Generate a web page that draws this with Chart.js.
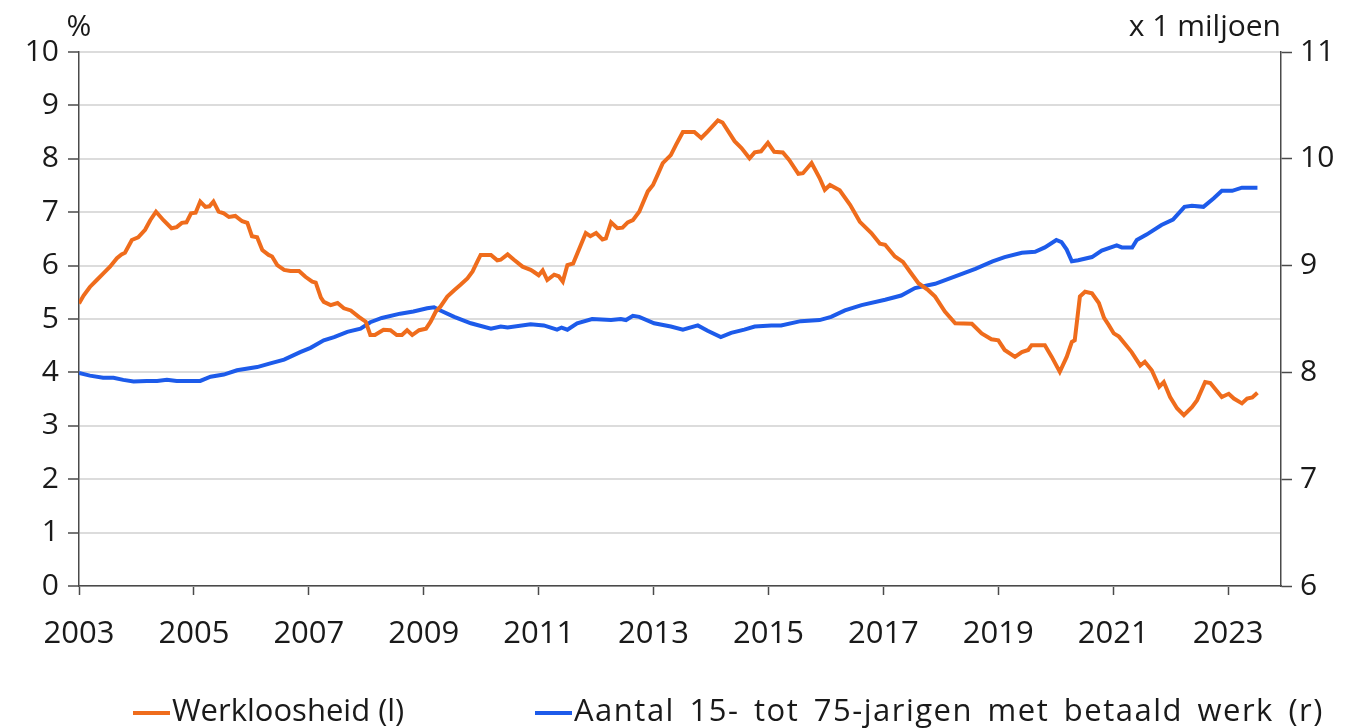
<!DOCTYPE html>
<html>
<head>
<meta charset="utf-8">
<script src="https://cdn.jsdelivr.net/npm/chart.js@4"></script>
<style>
  html, body { margin: 0; padding: 0; background: #fff; }
  #wrap { position: relative; width: 1350px; height: 728px; }
  #legend { position: absolute; left: 0; top: 689px; width: 1350px; height: 40px;
            font-family: "Open Sans", "Noto Sans", sans-serif; font-size: 31px; line-height: 40px; color: #1a1a1a; }
  #legend .item { position: absolute; top: 0; white-space: nowrap; }
  #legend .swatch { display: inline-block; width: 37px; height: 4px; vertical-align: middle; margin-right: 2px; }
</style>
</head>
<body>
<div id="wrap">
  <canvas id="myChart" width="1350" height="728"></canvas>
  <div id="legend"></div>
</div>
<script>
// Werkloosheid (%), x as decimal year
const unemploymentDates = [
  2003.00, 2003.08, 2003.19, 2003.31, 2003.42, 2003.54, 2003.66, 2003.74, 2003.80, 2003.92,
  2004.03, 2004.15, 2004.24, 2004.34, 2004.47, 2004.61, 2004.70, 2004.79, 2004.87, 2004.95,
  2005.03, 2005.11, 2005.20, 2005.27, 2005.34, 2005.43, 2005.52, 2005.61, 2005.72, 2005.84,
  2005.93, 2006.01, 2006.10, 2006.19, 2006.30, 2006.36, 2006.45, 2006.57, 2006.68, 2006.83,
  2006.94, 2007.06, 2007.12, 2007.21, 2007.26, 2007.38, 2007.50, 2007.61, 2007.73, 2007.87,
  2007.99, 2008.07, 2008.15, 2008.30, 2008.42, 2008.53, 2008.62, 2008.71, 2008.80, 2008.92,
  2009.04, 2009.12, 2009.21, 2009.29, 2009.41, 2009.53, 2009.64, 2009.76, 2009.85, 2009.93,
  2009.99, 2010.17, 2010.28, 2010.34, 2010.46, 2010.57, 2010.72, 2010.86, 2010.92, 2011.00,
  2011.07, 2011.15, 2011.27, 2011.35, 2011.42, 2011.50, 2011.60, 2011.82, 2011.90, 2012.00,
  2012.11, 2012.17, 2012.26, 2012.37, 2012.46, 2012.55, 2012.64, 2012.75, 2012.90, 2012.99,
  2013.07, 2013.16, 2013.30, 2013.39, 2013.51, 2013.71, 2013.83, 2013.94, 2014.12, 2014.20,
  2014.41, 2014.53, 2014.67, 2014.76, 2014.87, 2014.99, 2015.10, 2015.25, 2015.36, 2015.52,
  2015.60, 2015.75, 2015.89, 2015.98, 2016.07, 2016.24, 2016.42, 2016.59, 2016.79, 2016.94,
  2017.03, 2017.20, 2017.34, 2017.46, 2017.61, 2017.78, 2017.90, 2018.07, 2018.25, 2018.54,
  2018.71, 2018.88, 2019.00, 2019.11, 2019.29, 2019.41, 2019.52, 2019.58, 2019.81, 2019.93,
  2020.07, 2020.19, 2020.28, 2020.33, 2020.42, 2020.51, 2020.63, 2020.75, 2020.84, 2020.92,
  2021.01, 2021.10, 2021.32, 2021.47, 2021.55, 2021.67, 2021.80, 2021.88, 2021.99, 2022.11,
  2022.23, 2022.37, 2022.46, 2022.60, 2022.69, 2022.89, 2023.01, 2023.10, 2023.24, 2023.33,
  2023.42, 2023.51
];
const unemploymentValues = [
  5.29, 5.44, 5.60, 5.73, 5.85, 5.98, 6.14, 6.21, 6.24, 6.48,
  6.53, 6.67, 6.85, 7.01, 6.85, 6.70, 6.72, 6.80, 6.81, 6.98,
  6.99, 7.20, 7.10, 7.11, 7.20, 7.01, 6.98, 6.91, 6.93, 6.83,
  6.80, 6.55, 6.53, 6.29, 6.20, 6.17, 6.01, 5.92, 5.90, 5.90,
  5.79, 5.70, 5.68, 5.40, 5.32, 5.26, 5.30, 5.20, 5.16, 5.04,
  4.95, 4.70, 4.70, 4.80, 4.79, 4.70, 4.70, 4.79, 4.70, 4.79,
  4.82, 4.95, 5.14, 5.23, 5.42, 5.54, 5.64, 5.76, 5.89, 6.07,
  6.20, 6.20, 6.10, 6.11, 6.21, 6.11, 5.98, 5.92, 5.88, 5.82,
  5.91, 5.73, 5.83, 5.80, 5.70, 6.01, 6.04, 6.61, 6.55, 6.61,
  6.49, 6.51, 6.81, 6.70, 6.71, 6.81, 6.85, 7.01, 7.39, 7.51,
  7.70, 7.92, 8.07, 8.26, 8.50, 8.50, 8.39, 8.51, 8.72, 8.68,
  8.33, 8.20, 8.01, 8.12, 8.14, 8.30, 8.13, 8.12, 7.98, 7.72,
  7.73, 7.92, 7.64, 7.42, 7.51, 7.41, 7.14, 6.82, 6.61, 6.41,
  6.39, 6.17, 6.07, 5.89, 5.67, 5.54, 5.42, 5.14, 4.92, 4.91,
  4.73, 4.62, 4.60, 4.42, 4.29, 4.38, 4.42, 4.51, 4.51, 4.29,
  4.01, 4.29, 4.57, 4.60, 5.42, 5.51, 5.48, 5.30, 5.02, 4.89,
  4.73, 4.67, 4.38, 4.13, 4.20, 4.04, 3.73, 3.82, 3.54, 3.33,
  3.20, 3.35, 3.48, 3.82, 3.80, 3.54, 3.60, 3.51, 3.42, 3.51,
  3.53, 3.62
];

// Aantal 15- tot 75-jarigen met betaald werk (x 1 miljoen)
const employmentDates = [
  2003.00, 2003.19, 2003.42, 2003.60, 2003.77, 2003.95, 2004.18, 2004.36, 2004.53, 2004.70,
  2004.94, 2005.11, 2005.29, 2005.52, 2005.75, 2006.10, 2006.33, 2006.57, 2006.85, 2007.03,
  2007.26, 2007.44, 2007.67, 2007.90, 2008.07, 2008.27, 2008.59, 2008.82, 2009.06, 2009.18,
  2009.29, 2009.53, 2009.82, 2010.17, 2010.34, 2010.46, 2010.86, 2011.09, 2011.32, 2011.40,
  2011.50, 2011.67, 2011.93, 2012.26, 2012.43, 2012.52, 2012.64, 2012.75, 2013.01, 2013.30,
  2013.51, 2013.77, 2013.94, 2014.17, 2014.35, 2014.58, 2014.76, 2015.05, 2015.22, 2015.56,
  2015.89, 2016.09, 2016.33, 2016.62, 2017.03, 2017.31, 2017.55, 2017.90, 2018.25, 2018.60,
  2018.90, 2019.11, 2019.41, 2019.64, 2019.81, 2020.01, 2020.10, 2020.19, 2020.28, 2020.39,
  2020.63, 2020.80, 2021.06, 2021.15, 2021.33, 2021.41, 2021.58, 2021.84, 2022.04, 2022.24,
  2022.37, 2022.57, 2022.75, 2022.89, 2023.07, 2023.24, 2023.51
];
const employmentValues = [
  7.995, 7.97, 7.95, 7.95, 7.93, 7.915, 7.92, 7.92, 7.93, 7.92,
  7.92, 7.92, 7.96, 7.98, 8.02, 8.05, 8.085, 8.12, 8.19, 8.23,
  8.30, 8.33, 8.38, 8.41, 8.47, 8.51, 8.55, 8.57, 8.60, 8.61,
  8.58, 8.52, 8.46, 8.41, 8.43, 8.42, 8.45, 8.44, 8.40, 8.42,
  8.40, 8.46, 8.50, 8.49, 8.50, 8.49, 8.53, 8.52, 8.46, 8.43,
  8.40, 8.44, 8.39, 8.33, 8.37, 8.40, 8.43, 8.44, 8.44, 8.48,
  8.49, 8.52, 8.58, 8.63, 8.68, 8.72, 8.79, 8.83, 8.90, 8.97,
  9.04, 9.08, 9.12, 9.13, 9.17, 9.24, 9.22, 9.15, 9.04, 9.05,
  9.08, 9.14, 9.19, 9.17, 9.17, 9.24, 9.29, 9.38, 9.43, 9.55,
  9.56, 9.55, 9.63, 9.70, 9.70, 9.73, 9.73
];

const xTickYears = [2003, 2005, 2007, 2009, 2011, 2013, 2015, 2017, 2019, 2021, 2023];
const seriesLabels = ['Werkloosheid (l)', 'Aantal 15- tot 75-jarigen met betaald werk (r)'];
const seriesColors = ['#ef6c1c', '#1d5bea'];

const FONT = '"Open Sans", "Noto Sans", sans-serif';
const TEXT = '#1a1a1a';
const AXIS = '#4a4a4a';

// "%" and "x 1 miljoen" sit horizontally above the two axes
const unitLabels = {
  id: 'unitLabels',
  afterDraw(chart) {
    const { ctx, chartArea } = chart;
    ctx.save();
    ctx.font = '30px ' + FONT;
    ctx.fillStyle = TEXT;
    ctx.textBaseline = 'middle';
    ctx.textAlign = 'center';
    ctx.fillText('%', chartArea.left, 27);
    ctx.textAlign = 'right';
    ctx.fillText('x 1 miljoen', chartArea.right, 27);
    ctx.restore();
  }
};

const ctx = document.getElementById('myChart').getContext('2d');
const myChart = new Chart(ctx, {
  type: 'line',
  data: {
    datasets: [
      {
        label: seriesLabels[0],
        data: unemploymentDates.map((d, i) => ({ x: d, y: unemploymentValues[i] })),
        borderColor: seriesColors[0],
        backgroundColor: seriesColors[0],
        borderWidth: 4,
        pointRadius: 0,
        tension: 0,
        yAxisID: 'y'
      },
      {
        label: seriesLabels[1],
        data: employmentDates.map((d, i) => ({ x: d, y: employmentValues[i] })),
        borderColor: seriesColors[1],
        backgroundColor: seriesColors[1],
        borderWidth: 4,
        pointRadius: 0,
        tension: 0,
        yAxisID: 'y1'
      }
    ]
  },
  options: {
    responsive: false,
    animation: false,
    layout: { padding: { top: 52, right: 0, bottom: 60, left: 0 } },
    plugins: {
      tooltip: { enabled: false },
      legend: { display: false }
    },
    scales: {
      x: {
        type: 'linear',
        min: 2003,
        max: 2023.92,
        afterBuildTicks: axis => { axis.ticks = xTickYears.map(v => ({ value: v })); },
        afterFit: axis => { axis.height = 82; },
        border: { display: true, color: AXIS, width: 1.5 },
        grid: { display: true, drawOnChartArea: false, drawTicks: true, tickLength: 9, tickColor: AXIS, tickWidth: 1.5 },
        ticks: {
          padding: 21,
          maxRotation: 0,
          autoSkip: false,
          color: TEXT,
          font: { family: FONT, size: 31 },
          callback: v => String(v)
        }
      },
      y: {
        position: 'left',
        min: 0,
        max: 10,
        afterFit: axis => { axis.width = 79; },
        border: { display: true, color: AXIS, width: 1.5 },
        grid: { color: '#dcdcdc', lineWidth: 2, tickColor: AXIS, tickWidth: 1.5, tickLength: 11 },
        ticks: { stepSize: 1, padding: 9, color: TEXT, font: { family: FONT, size: 30 } }
      },
      y1: {
        position: 'right',
        min: 6,
        max: 11,
        afterFit: axis => { axis.width = 69; },
        border: { display: true, color: AXIS, width: 1.5 },
        grid: { drawOnChartArea: false, tickColor: AXIS, tickWidth: 1.5, tickLength: 11 },
        ticks: { stepSize: 1, padding: 8, color: TEXT, font: { family: FONT, size: 30 } }
      }
    }
  },
  plugins: [unitLabels]
});

// legend below the chart, placed like the original
const legendLeft = [133, 535];
const legendLetterSpacing = ['0px', '1.5px'];
const legendWordSpacing = ['0px', '5px'];
const legendEl = document.getElementById('legend');
seriesLabels.forEach((label, i) => {
  const item = document.createElement('div');
  item.className = 'item';
  item.style.left = legendLeft[i] + 'px';
  const swatch = document.createElement('span');
  swatch.className = 'swatch';
  swatch.style.background = seriesColors[i];
  const text = document.createElement('span');
  text.textContent = label;
  text.style.letterSpacing = legendLetterSpacing[i];
  text.style.wordSpacing = legendWordSpacing[i];
  item.appendChild(swatch);
  item.appendChild(text);
  legendEl.appendChild(item);
});
</script>
</body>
</html>
